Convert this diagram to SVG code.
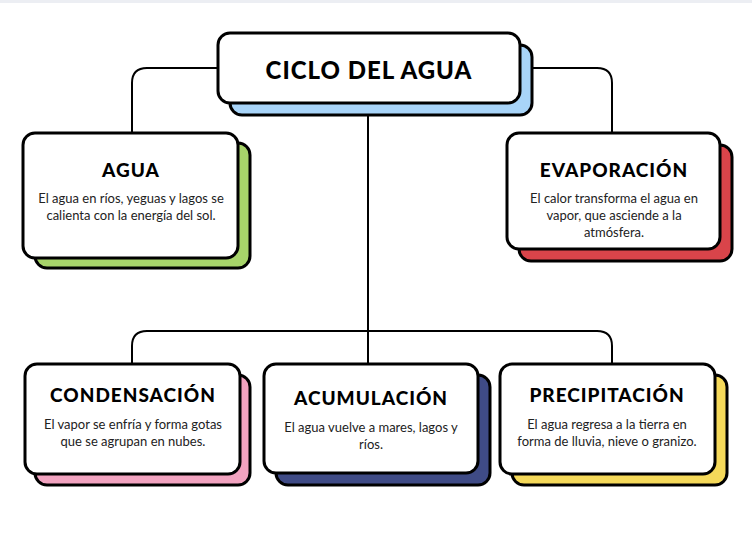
<svg xmlns="http://www.w3.org/2000/svg" width="752" height="542" viewBox="0 0 752 542">
<style>
.f{fill:#fff;stroke:#000;stroke-width:3}
.s{stroke:#000;stroke-width:3}
.t{font-family:"Comic Sans MS","Lato","Liberation Sans",sans-serif;font-weight:900;text-anchor:middle;fill:#000;letter-spacing:1px}
.b{font-family:"Lato","Liberation Sans",sans-serif;font-size:13px;text-anchor:middle;fill:#222}
.c{fill:none;stroke:#000;stroke-width:2}
</style>
<rect width="752" height="542" fill="#fff"/>
<rect width="752" height="3" fill="#eceef3"/>
<g id="connectors">
<path class="c" d="M218 68 H147 Q132 68 132 83 V133"/>
<path class="c" d="M520 68 H597 Q612 68 612 83 V133"/>
<path class="c" d="M368 115 V364"/>
<path class="c" d="M132 364 V346 Q132 331 147 331 H597 Q612 331 612 346 V364"/>
</g>
<g id="title">
<rect class="s" x="230" y="45" width="302" height="70" rx="12" fill="#a8d4f8"/>
<rect class="f" x="218" y="33" width="302" height="70" rx="12"/>
<text class="t" x="369" y="79" font-size="24">CICLO DEL AGUA</text>
</g>
<g id="agua">
<rect class="s" x="35" y="143" width="215" height="125" rx="12" fill="#a7d46a"/>
<rect class="f" x="23" y="133" width="215" height="125" rx="12"/>
<text class="t" x="131" y="177" font-size="19">AGUA</text>
<text class="b" x="131" y="203">El agua en ríos, yeguas y lagos se</text>
<text class="b" x="131" y="220">calienta con la energía del sol.</text>
</g>
<g id="evaporacion">
<rect class="s" x="519" y="145" width="213" height="116" rx="12" fill="#d9444a"/>
<rect class="f" x="507" y="133" width="213" height="116" rx="12"/>
<text class="t" x="614" y="177" font-size="19">EVAPORACIÓN</text>
<text class="b" x="614" y="203">El calor transforma el agua en</text>
<text class="b" x="614" y="220">vapor, que asciende a la</text>
<text class="b" x="614" y="237">atmósfera.</text>
</g>
<g id="condensacion">
<rect class="s" x="35" y="375" width="215" height="110" rx="12" fill="#f2a3c0"/>
<rect class="f" x="25" y="364" width="215" height="110" rx="12"/>
<text class="t" x="133" y="402" font-size="19">CONDENSACIÓN</text>
<text class="b" x="133" y="429">El vapor se enfría y forma gotas</text>
<text class="b" x="133" y="446">que se agrupan en nubes.</text>
</g>
<g id="acumulacion">
<rect class="s" x="276" y="375" width="214" height="110" rx="12" fill="#3f4b86"/>
<rect class="f" x="264" y="364" width="214" height="109" rx="12"/>
<text class="t" x="371" y="405" font-size="19">ACUMULACIÓN</text>
<text class="b" x="371" y="432">El agua vuelve a mares, lagos y</text>
<text class="b" x="371" y="449">ríos.</text>
</g>
<g id="precipitacion">
<rect class="s" x="512" y="375" width="215" height="110" rx="12" fill="#f5d95a"/>
<rect class="f" x="500" y="364" width="215" height="110" rx="12"/>
<text class="t" x="607" y="402" font-size="19">PRECIPITACIÓN</text>
<text class="b" x="607" y="429">El agua regresa a la tierra en</text>
<text class="b" x="607" y="446">forma de lluvia, nieve o granizo.</text>
</g>
</svg>
